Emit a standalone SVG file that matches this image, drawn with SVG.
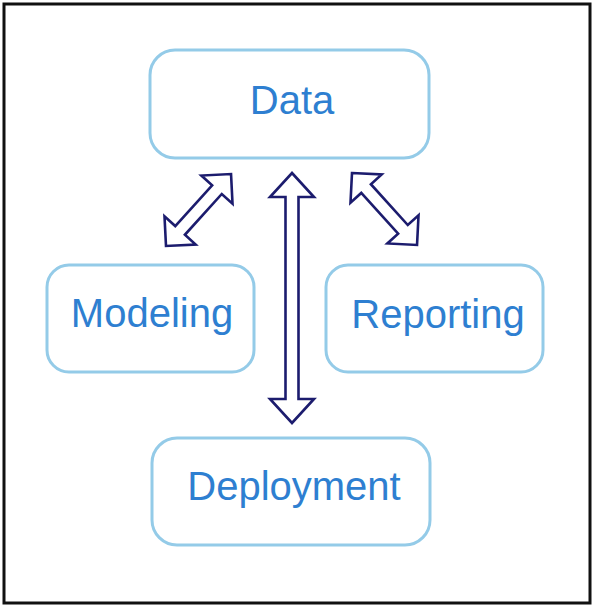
<svg xmlns="http://www.w3.org/2000/svg" width="593" height="606" viewBox="0 0 593 606">
<style>
.box{fill:#ffffff;stroke:#94cbe8;stroke-width:3}
.lbl{font-family:"Liberation Sans",Arial,sans-serif;font-size:40px;fill:#2e7fd1;text-anchor:middle}
.arr{fill:#ffffff;stroke:#1c1c6e;stroke-width:2.6;stroke-linejoin:miter}
</style>
<rect x="0" y="0" width="593" height="606" fill="#ffffff"/>
<rect x="4" y="4" width="586" height="599" fill="none" stroke="#111111" stroke-width="3"/>
<g id="connectors">
<polygon class="arr" transform="translate(292,173) rotate(90)" points="0,0 24,-22 24,-6.5 226,-6.5 226,-22 250,0 226,22 226,6.5 24,6.5 24,22"/>
<polygon class="arr" transform="translate(166,246) rotate(-47.9)" points="0,0 21,-21 21,-6.5 76,-6.5 76,-21 97,0 76,21 76,6.5 21,6.5 21,21"/>
<polygon class="arr" transform="translate(352,173) rotate(47.9)" points="0,0 21,-21 21,-6.5 76,-6.5 76,-21 97,0 76,21 76,6.5 21,6.5 21,21"/>
</g>
<g id="node-data">
<rect class="box" x="150" y="50" width="279" height="108" rx="25"/>
<text class="lbl" x="292" y="114">Data</text>
</g>
<g id="node-modeling">
<rect class="box" x="47" y="265" width="207" height="107" rx="22"/>
<text class="lbl" x="152" y="327">Modeling</text>
</g>
<g id="node-reporting">
<rect class="box" x="326" y="265" width="217" height="107" rx="22"/>
<text class="lbl" x="438" y="328">Reporting</text>
</g>
<g id="node-deployment">
<rect class="box" x="152" y="438" width="278" height="107" rx="25"/>
<text class="lbl" x="294" y="500">Deployment</text>
</g>
</svg>
